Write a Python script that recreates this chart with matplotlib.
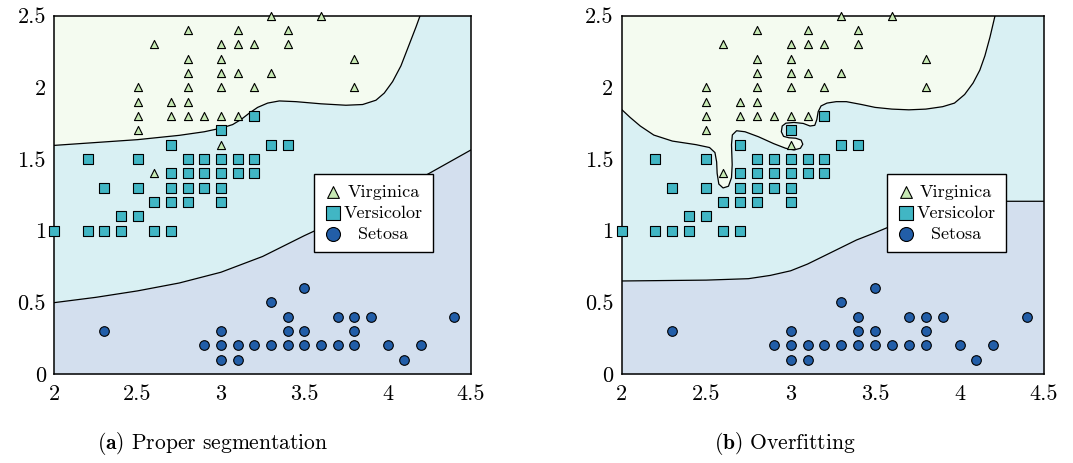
import matplotlib
matplotlib.use('Agg')
import matplotlib.pyplot as plt

plt.rcParams['font.family'] = 'serif'
plt.rcParams['font.serif'] = ['cmr10']
plt.rcParams['mathtext.fontset'] = 'cm'
plt.rcParams['axes.formatter.use_mathtext'] = True

# iris: sepal width (x) vs petal width (y)
setosa_x = [2.3, 3.0, 3.0, 3.0, 2.9, 3.1, 3.1, 3.2, 3.3, 3.3, 3.4, 3.4, 3.4, 3.5, 3.5, 3.5,
            3.6, 3.7, 3.7, 3.8, 3.8, 3.8, 3.9, 4.0, 4.1, 4.2, 4.4]
setosa_y = [0.3, 0.3, 0.2, 0.1, 0.2, 0.2, 0.1, 0.2, 0.2, 0.5, 0.4, 0.3, 0.2, 0.6, 0.3, 0.2,
            0.2, 0.4, 0.2, 0.4, 0.3, 0.2, 0.4, 0.2, 0.1, 0.2, 0.4]

versicolor_x = [2.0, 2.2, 2.2, 2.3, 2.3, 2.4, 2.4, 2.5, 2.5, 2.5, 2.6, 2.6, 2.7, 2.7, 2.7, 2.7,
                2.7, 2.8, 2.8, 2.8, 2.8, 2.9, 2.9, 2.9, 3.0, 3.0, 3.0, 3.0, 3.0, 3.1, 3.1,
                3.2, 3.2, 3.2, 3.3, 3.4]
versicolor_y = [1.0, 1.0, 1.5, 1.0, 1.3, 1.0, 1.1, 1.1, 1.3, 1.5, 1.0, 1.2, 1.0, 1.2, 1.3, 1.4,
                1.6, 1.2, 1.3, 1.4, 1.5, 1.3, 1.4, 1.5, 1.2, 1.3, 1.4, 1.5, 1.7, 1.4, 1.5,
                1.4, 1.5, 1.8, 1.6, 1.6]

virginica_x = [2.5, 2.5, 2.5, 2.5, 2.6, 2.6, 2.7, 2.7, 2.8, 2.8, 2.8, 2.8, 2.8, 2.8, 2.9, 3.0,
               3.0, 3.0, 3.0, 3.0, 3.0, 3.1, 3.1, 3.1, 3.1, 3.2, 3.2, 3.3, 3.3, 3.4, 3.4,
               3.6, 3.8, 3.8]
virginica_y = [1.7, 1.8, 1.9, 2.0, 1.4, 2.3, 1.8, 1.9, 1.8, 1.9, 2.0, 2.1, 2.2, 2.4, 1.8, 1.6,
               1.8, 2.0, 2.1, 2.2, 2.3, 1.8, 2.1, 2.3, 2.4, 2.0, 2.3, 2.1, 2.5, 2.3, 2.4,
               2.5, 2.0, 2.2]

# decision boundaries
a_low_x = [2.0, 2.25, 2.5, 2.75, 3.0, 3.25, 3.5, 3.75, 4.0, 4.25, 4.5]
a_low_y = [0.498, 0.535, 0.58, 0.635, 0.71, 0.82, 0.965, 1.1, 1.24, 1.4, 1.563]
a_up_x = [2.0, 2.25, 2.5, 2.75, 2.9, 3.0, 3.07, 3.12, 3.17, 3.22, 3.28, 3.35, 3.45, 3.6,
          3.75, 3.85, 3.93, 3.98, 4.03, 4.08, 4.13, 4.17, 4.195]
a_up_y = [1.595, 1.615, 1.635, 1.665, 1.69, 1.715, 1.74, 1.775, 1.82, 1.86, 1.89, 1.905, 1.9,
          1.885, 1.875, 1.88, 1.91, 1.96, 2.04, 2.15, 2.3, 2.42, 2.5]

b_low_x = [2.0, 2.5, 2.75, 2.88, 3.0, 3.1, 3.19, 3.29, 3.39, 3.49, 3.58, 3.7, 3.8, 3.9, 4.0,
           4.1, 4.2, 4.5]
b_low_y = [0.649, 0.655, 0.665, 0.688, 0.72, 0.767, 0.819, 0.877, 0.935, 0.981, 1.025, 1.08,
           1.125, 1.16, 1.185, 1.2, 1.205, 1.205]
b_up_x = [2.0, 2.05, 2.11, 2.19, 2.3, 2.44, 2.52, 2.552, 2.562, 2.565,
          2.575, 2.6, 2.632, 2.65, 2.654, 2.65, 2.655, 2.68, 2.73, 2.81,
          2.9, 2.97, 3.02, 3.058, 3.072, 3.062, 3.03, 2.99, 2.958, 2.945,
          2.95, 2.972, 3.02, 3.075, 3.115, 3.143, 3.155, 3.163, 3.18, 3.215,
          3.27, 3.33, 3.42, 3.5, 3.6, 3.7, 3.8, 3.9, 3.97, 4.03,
          4.08, 4.12, 4.15, 4.18, 4.21]
b_up_y = [1.845, 1.79, 1.73, 1.667, 1.625, 1.6, 1.58, 1.545, 1.48, 1.4,
          1.325, 1.298, 1.31, 1.37, 1.46, 1.6, 1.668, 1.697, 1.69, 1.655,
          1.607, 1.575, 1.563, 1.575, 1.603, 1.632, 1.645, 1.648, 1.658, 1.69,
          1.73, 1.75, 1.755, 1.748, 1.73, 1.735, 1.775, 1.83, 1.87, 1.89,
          1.9, 1.9, 1.88, 1.86, 1.848, 1.843, 1.848, 1.865, 1.89, 1.95,
          2.03, 2.12, 2.22, 2.35, 2.5]

xticks = [2, 2.5, 3, 3.5, 4, 4.5]
xtick_labels = ['2', '2.5', '3', '3.5', '4', '4.5']
yticks = [0, 0.5, 1, 1.5, 2, 2.5]
ytick_labels = ['0', '0.5', '1', '1.5', '2', '2.5']

c_vir, c_ver, c_set = '#c7e9b4', '#41b6c4', '#225ea8'
r_vir, r_ver, r_set = '#f4fbf0', '#d9f0f3', '#d3dfee'

fig = plt.figure(figsize=(10.73, 4.63), dpi=100)
ax1 = fig.add_axes([0.0506, 0.1922, 0.3883, 0.774])
ax2 = fig.add_axes([0.5794, 0.1922, 0.3936, 0.774])

panels = [(ax1, a_low_x, a_low_y, a_up_x, a_up_y),
          (ax2, b_low_x, b_low_y, b_up_x, b_up_y)]
legends = []
for ax, lx, ly, ux, uy in panels:
    ax.set_xlim(2, 4.5)
    ax.set_ylim(0, 2.5)
    ax.set_facecolor(r_ver)
    ax.fill_between(lx, 0, ly, color=r_set, lw=0)
    ax.fill(ux + [2.0], uy + [2.5], color=r_vir, lw=0)
    ax.plot(lx, ly, color='black', lw=0.9)
    ax.plot(ux, uy, color='black', lw=0.9)
    ax.scatter(virginica_x, virginica_y, marker='^', s=34, c=c_vir, edgecolors='black',
               linewidths=0.8, label='Virginica', zorder=3, clip_on=False)
    ax.scatter(versicolor_x, versicolor_y, marker='s', s=44, c=c_ver, edgecolors='black',
               linewidths=0.8, label='Versicolor', zorder=3, clip_on=False)
    ax.scatter(setosa_x, setosa_y, marker='o', s=48, c=c_set, edgecolors='black',
               linewidths=0.8, label='Setosa', zorder=3, clip_on=False)
    ax.set_xticks(xticks)
    ax.set_xticklabels(xtick_labels)
    ax.set_yticks(yticks)
    ax.set_yticklabels(ytick_labels)
    ax.tick_params(length=0, labelsize=16)
    ax.tick_params(axis='x', pad=7.5)
    ax.tick_params(axis='y', pad=6)
    for sp in ax.spines.values():
        sp.set_linewidth(1.1)
    leg = ax.legend(loc='upper right', bbox_to_anchor=(0.909, 0.558), borderaxespad=0,
                    fontsize=13, markerscale=1.45, handletextpad=0.1, handlelength=1.0,
                    labelspacing=0.3, borderpad=0.55, fancybox=False, framealpha=1,
                    edgecolor='black')
    leg.get_frame().set_linewidth(1.0)
    leg.set_zorder(5)
    legends.append(leg)

# centre the legend labels like the original
fig.canvas.draw()
r = fig.canvas.get_renderer()
for leg in legends:
    texts = leg.get_texts()
    ws = [t.get_window_extent(r).width for t in texts]
    for t, w in zip(texts, ws):
        t.set_x((max(ws) - w) / 2)

fig.text(213 / 1073, 1 - 449 / 463, r'$\mathbf{(a)}$ Proper segmentation', fontsize=15.5,
         ha='center', va='baseline')
fig.text(785 / 1073, 1 - 449 / 463, r'$\mathbf{(b)}$ Overfitting', fontsize=15.5,
         ha='center', va='baseline')

fig.savefig('out.png', dpi=100)
